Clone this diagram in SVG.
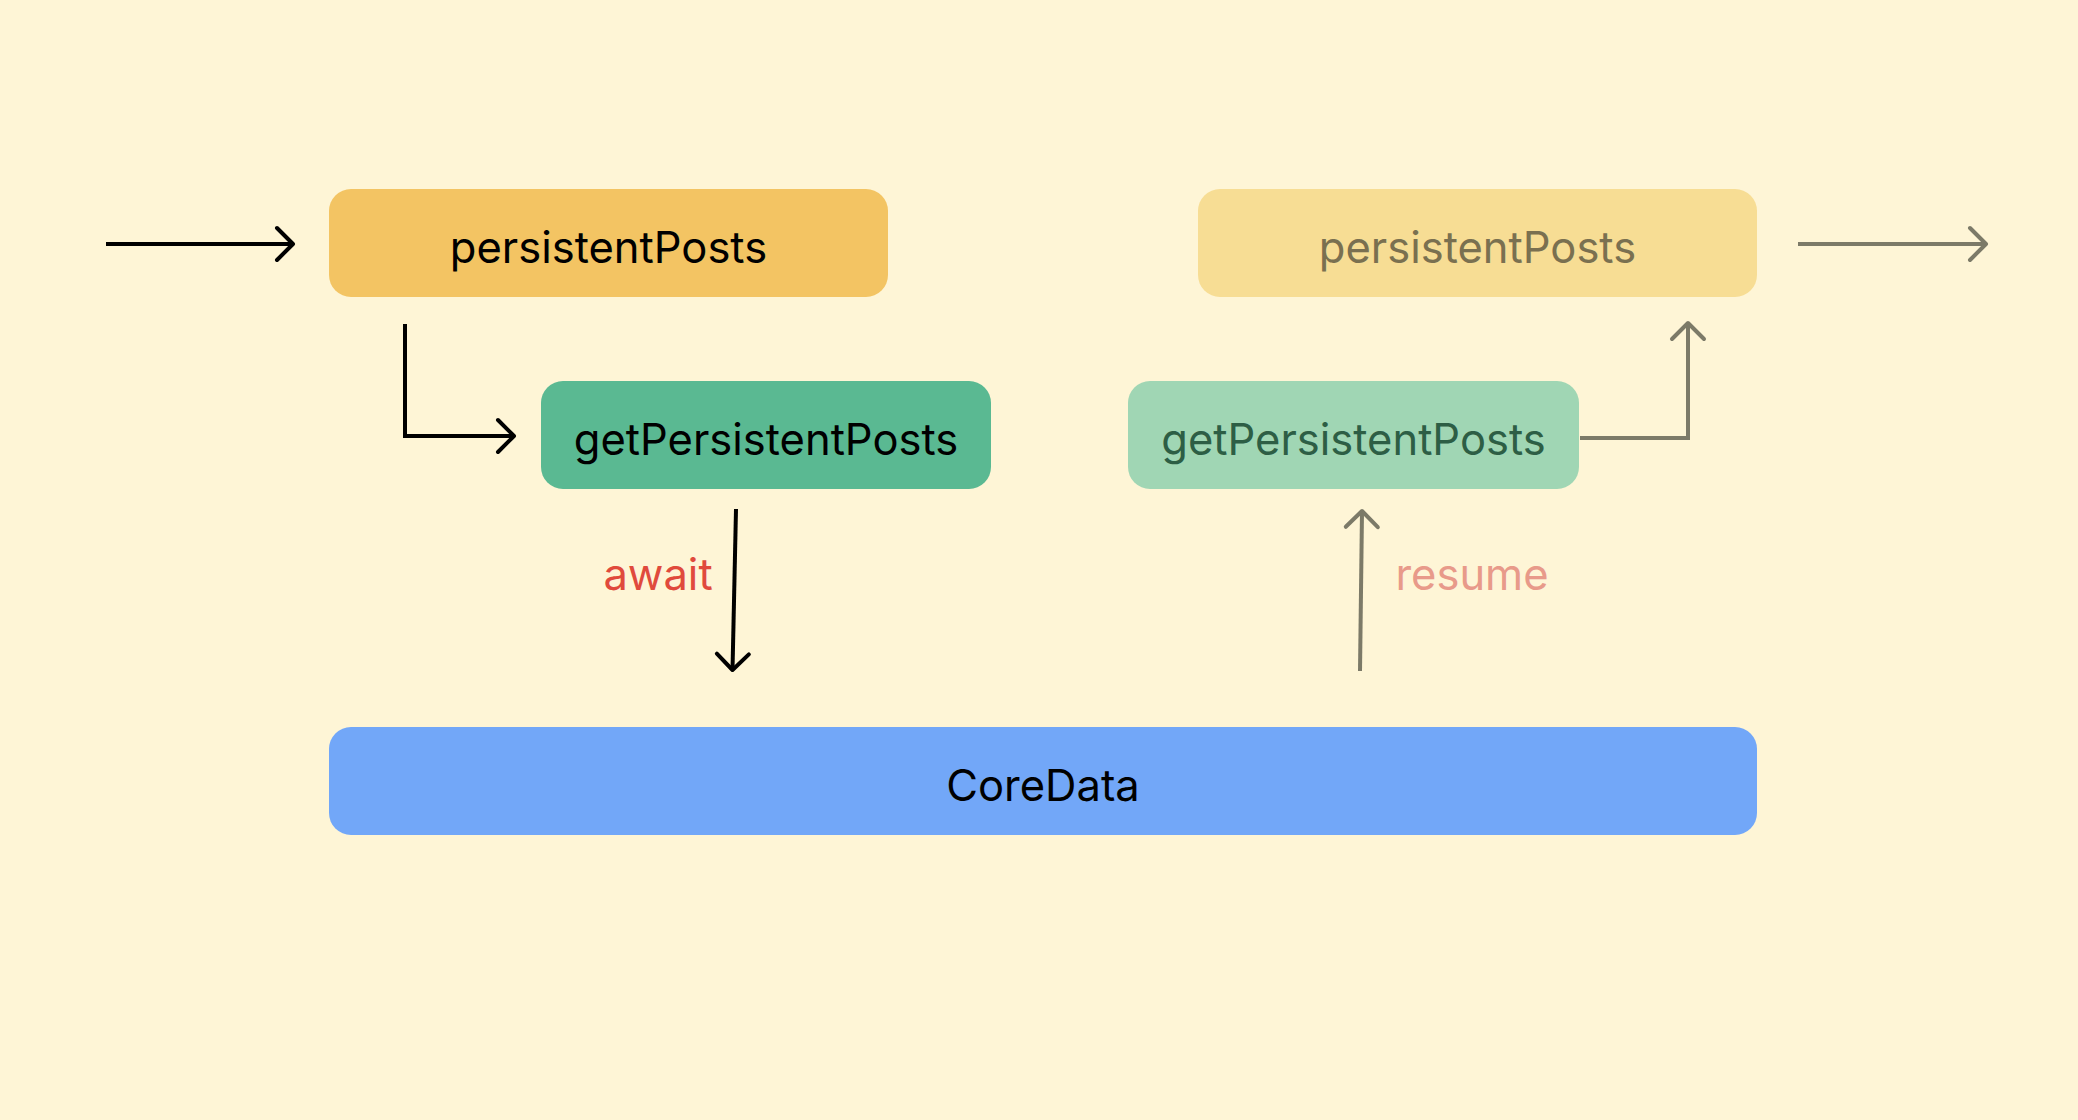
<svg xmlns="http://www.w3.org/2000/svg" width="2078" height="1120" viewBox="0 0 2078 1120">
<style>
.lbl{font-family:Inter,"Noto Sans","Liberation Sans",sans-serif;font-size:43.5px;text-anchor:middle}
.edge{fill:none;stroke-width:4}
.k{stroke:#000000}
.g{stroke:#7c7a68}
</style>
<defs>
<marker id="ak" viewBox="-20 -20 24 40" refX="0" refY="0" markerWidth="24" markerHeight="40" markerUnits="userSpaceOnUse" orient="auto" overflow="visible">
<path d="M-16,-16 L0,0 L-16,16" fill="none" stroke="#000000" stroke-width="4" stroke-linecap="round" stroke-linejoin="round"/>
</marker>
<marker id="ag" viewBox="-20 -20 24 40" refX="0" refY="0" markerWidth="24" markerHeight="40" markerUnits="userSpaceOnUse" orient="auto" overflow="visible">
<path d="M-16,-16 L0,0 L-16,16" fill="none" stroke="#7c7a68" stroke-width="4" stroke-linecap="round" stroke-linejoin="round"/>
</marker>
</defs>
<rect width="2078" height="1120" fill="#fef5d6"/>
<g id="node-persistentPosts-1">
<rect x="329" y="189" width="559" height="108" rx="22" fill="#f3c463"/>
<text class="lbl" x="608.5" y="263" fill="#000000">persistentPosts</text>
</g>
<g id="node-getPersistentPosts-1">
<rect x="541" y="381" width="450" height="108" rx="22" fill="#5ab992"/>
<text class="lbl" x="766" y="455" fill="#000000">getPersistentPosts</text>
</g>
<g id="node-persistentPosts-2">
<rect x="1198" y="189" width="559" height="108" rx="22" fill="#f7dd94"/>
<text class="lbl" x="1477.5" y="263" fill="#7a7050">persistentPosts</text>
</g>
<g id="node-getPersistentPosts-2">
<rect x="1128" y="381" width="451" height="108" rx="22" fill="#a0d6b4"/>
<text class="lbl" x="1353.5" y="455" fill="#2d5e45">getPersistentPosts</text>
</g>
<g id="node-CoreData">
<rect x="329" y="727" width="1428" height="108" rx="22" fill="#72a7f8"/>
<text class="lbl" x="1043" y="801" fill="#000000">CoreData</text>
</g>
<g id="connectors">
<line class="edge k" x1="106" y1="244" x2="293" y2="244" marker-end="url(#ak)"/>
<polyline class="edge k" points="405,324 405,436 514,436" marker-end="url(#ak)"/>
<line class="edge k" x1="736" y1="509" x2="732.5" y2="670" marker-end="url(#ak)"/>
<text class="lbl" x="658" y="590" fill="#e04a3c">await</text>
<line class="edge g" x1="1360" y1="671" x2="1362" y2="511" marker-end="url(#ag)"/>
<text class="lbl" x="1472" y="590" fill="#e89a8a">resume</text>
<polyline class="edge g" points="1580,438 1688,438 1688,323" marker-end="url(#ag)"/>
<line class="edge g" x1="1798" y1="244" x2="1986" y2="244" marker-end="url(#ag)"/>
</g>
</svg>
